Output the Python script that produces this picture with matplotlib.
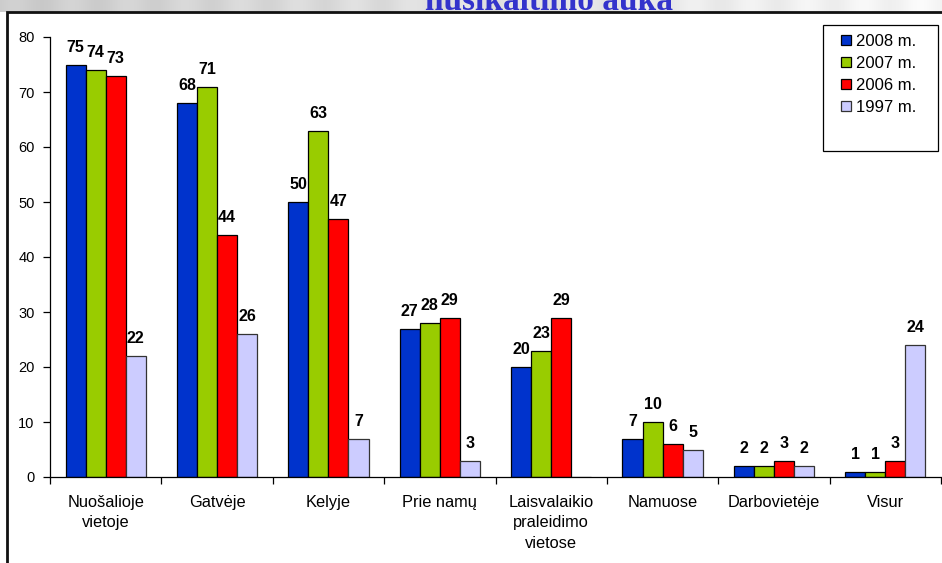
import numpy as np
import matplotlib
matplotlib.use("Agg")
import matplotlib.pyplot as plt
from matplotlib.patches import Rectangle

categories = ["Nuošalioje\nvietoje", "Gatvėje", "Kelyje", "Prie namų",
              "Laisvalaikio\npraleidimo\nvietose", "Namuose", "Darbovietėje", "Visur"]
series_names = ["2008 m.", "2007 m.", "2006 m.", "1997 m."]
v2008 = [75, 68, 50, 27, 20, 7, 2, 1]
v2007 = [74, 71, 63, 28, 23, 10, 2, 1]
v2006 = [73, 44, 47, 29, 29, 6, 3, 3]
v1997 = [22, 26, 7, 3, None, 5, 2, 24]
yticks = [0, 10, 20, 30, 40, 50, 60, 70, 80]
title_text = "nusikaltimo auka"

colors = ["#0033CC", "#99CC00", "#FF0000", "#CCCCFF"]
series = [v2008, v2007, v2006, v1997]

W, H = 942, 563
fig = plt.figure(figsize=(W / 100, H / 100), dpi=100)
fig.patch.set_facecolor("white")

# background gradient strip at top
bg = fig.add_axes([0, 0, 1, 1], zorder=-10)
bg.set_axis_off()
grad = np.ones((H, W, 3))
yy = np.arange(H)[:, None]
xx = np.arange(W)[None, :]
gray = 0.80 + 0.17 * (xx / W) + 0.02 * np.sin(xx / 9.0)
mask_top = yy < 12
for k in range(3):
    grad[:, :, k] = np.where(mask_top, gray, 1.0)
bg.imshow(grad, extent=[0, 1, 0, 1], aspect="auto", transform=bg.transAxes)
bg.set_xlim(0, 1)
bg.set_ylim(0, 1)
# chart box
bg.add_patch(Rectangle((7 / W, -0.01), 1.0, 1 - 12 / H + 0.01, transform=bg.transAxes,
                       facecolor="white", edgecolor="#111111", linewidth=2.0))
# legend frame (reference box has extra space below the entries)
bg.add_patch(Rectangle((823 / W, 1 - 151 / H), (938 - 823) / W, (151 - 25) / H,
                       transform=bg.transAxes, facecolor="white",
                       edgecolor="black", linewidth=0.9))

fig.text(549 / W, 1 - 10 / H, title_text, ha="center", va="baseline",
         fontsize=24, fontweight="bold", family="Liberation Serif", color="#3333CC")

ax = fig.add_axes([50 / W, (H - 477) / H, (941 - 50) / W, (477 - 37) / H])
ax.set_facecolor("none")
n = len(categories)
x = np.arange(n)
bw = 0.18
for i, (vals, c, name) in enumerate(zip(series, colors, series_names)):
    xs = x + (i - 1.5) * bw
    hv = [v if v is not None else 0 for v in vals]
    ec = "#333333" if i == 3 else "black"
    ax.bar(xs, hv, width=bw, color=c, edgecolor=ec, linewidth=0.9, label=name)
    for xi, v in zip(xs, vals):
        if v is None:
            continue
        ax.annotate(str(v), (xi, v), xytext=(0, 7), textcoords="offset points",
                    ha="center", va="bottom", fontsize=11.5, fontweight="bold",
                    family="Liberation Sans")

ax.set_xlim(-0.5, n - 0.5)
ax.set_ylim(0, 80)
ax.set_yticks(yticks)
ax.set_yticklabels([str(t) for t in yticks], fontsize=10.5, family="Liberation Sans")
ax.set_xticks(x)
ax.set_xticklabels(categories, fontsize=11.8, family="Liberation Sans", linespacing=1.45)
ax.tick_params(axis="x", length=0, pad=13)
ax.set_xticks(np.arange(-0.5, n, 1.0), minor=True)
ax.tick_params(axis="x", which="minor", length=5, direction="out", width=0.9)
ax.tick_params(axis="y", length=5, direction="out", width=0.9, pad=6)
for s in ["top", "right"]:
    ax.spines[s].set_visible(False)
for s in ["left", "bottom"]:
    ax.spines[s].set_linewidth(0.9)

leg = ax.legend(loc="upper left", bbox_to_anchor=(841 / W, 1 - 34 / H),
                bbox_transform=fig.transFigure, frameon=False,
                prop={"family": "Liberation Sans", "size": 12},
                handlelength=0.6, handleheight=0.6, handletextpad=0.3,
                labelspacing=0.42, borderpad=0, borderaxespad=0)

fig.savefig("out.png", dpi=100)
